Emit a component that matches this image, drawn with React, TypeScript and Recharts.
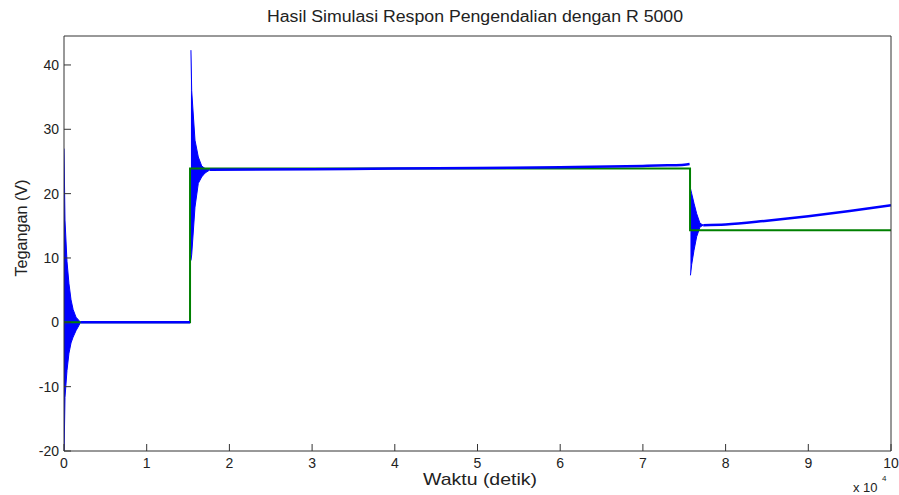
import { ComposedChart, Line, Area, XAxis, YAxis } from 'recharts';

// time is in units of 10^4 s
const timeTicks = [0, 1, 2, 3, 4, 5, 6, 7, 8, 9, 10];
const voltTicks = [-20, -10, 0, 10, 20, 30, 40];

// setpoint (green)
const refTime = [0, 1.524, 1.524, 7.57, 7.57, 10];
const refVolt = [0, 0, 23.9, 23.9, 14.3, 14.3];

// controlled output (blue); null breaks the trace where an oscillation band takes over
const respTime = [0.2, 1.524, 1.53, 1.765, 3, 4, 5, 6, 7, 7.3, 7.5, 7.565, 7.57, 7.73, 8, 8.5, 9, 9.5, 10];
const respVolt = [0, 0, null, 23.7, 23.8, 23.9, 24.0, 24.1, 24.3, 24.4, 24.5, 24.6, null, 15.1, 15.2, 15.8, 16.5, 17.3, 18.2];

// oscillation envelopes after each switching instant
const startTime = [0, 0.012, 0.036, 0.06, 0.085, 0.11, 0.145, 0.18, 0.2];
const startHigh = [27, 15.9, 9.5, 6, 3.5, 2, 0.8, 0.3, 0];
const startLow = [-21, -11.7, -7.5, -4.8, -3.2, -2.3, -1.3, -0.5, 0];

const riseTime = [1.535, 1.544, 1.584, 1.624, 1.665, 1.705, 1.765];
const riseHigh = [42.3, 36, 28.3, 25.7, 24.3, 23.9, 23.7];
const riseLow = [9.6, 10.5, 17.9, 21.6, 22.6, 23.2, 23.7];

const dropTime = [7.575, 7.59, 7.618, 7.65, 7.69, 7.73];
const dropHigh = [20.8, 20, 18.5, 16.9, 15.4, 15.1];
const dropLow = [7.3, 9, 11.2, 13.3, 14.8, 15.1];

const refData = refTime.map((t, i) => ({ t, v: refVolt[i] }));
const respData = respTime.map((t, i) => ({ t, v: respVolt[i] }));
const band = (time: number[], low: number[], high: number[]) =>
  time.map((t, i) => ({ t, range: [low[i], high[i]] }));
const bands = [
  band(startTime, startLow, startHigh),
  band(riseTime, riseLow, riseHigh),
  band(dropTime, dropLow, dropHigh),
];

const AXIS = '#333';
const FONT = '"Liberation Sans", Arial, sans-serif';
const TICK_LEN = 7;

const BottomTick = ({ x, y, payload }: any) => (
  <g>
    <line x1={x} y1={y} x2={x} y2={y - TICK_LEN} stroke={AXIS} />
    <text x={x} y={y + 17} textAnchor="middle" fontSize={14} fill="#222">
      {payload.value}
    </text>
  </g>
);

const TopTick = ({ x, y }: any) => <line x1={x} y1={y} x2={x} y2={y + TICK_LEN} stroke={AXIS} />;

const LeftTick = ({ x, y, payload }: any) => (
  <g>
    <line x1={x} y1={y} x2={x + TICK_LEN} y2={y} stroke={AXIS} />
    <text x={x - 5} y={y + 5} textAnchor="end" fontSize={14} fill="#222">
      {payload.value}
    </text>
  </g>
);

const RightTick = ({ x, y }: any) => <line x1={x} y1={y} x2={x - TICK_LEN} y2={y} stroke={AXIS} />;

export default function App() {
  return (
    <div style={{ position: 'absolute', left: 0, top: 0, width: 899, height: 495, background: '#fff', fontFamily: FONT }}>
      <ComposedChart width={899} height={495} margin={{ top: 35, right: 7, bottom: 14, left: 0 }}>
        <XAxis
          xAxisId="b"
          type="number"
          dataKey="t"
          domain={[0, 10]}
          ticks={timeTicks}
          interval={0}
          allowDataOverflow
          height={30}
          tickSize={0}
          tickMargin={0}
          tickLine={false}
          axisLine={{ stroke: AXIS }}
          tick={<BottomTick />}
        />
        <XAxis
          xAxisId="t"
          orientation="top"
          type="number"
          dataKey="t"
          domain={[0, 10]}
          ticks={timeTicks}
          interval={0}
          height={1}
          tickSize={0}
          tickMargin={0}
          tickLine={false}
          axisLine={{ stroke: AXIS }}
          tick={<TopTick />}
        />
        <YAxis
          yAxisId="l"
          type="number"
          domain={[-20, 44.5]}
          ticks={voltTicks}
          interval={0}
          allowDataOverflow
          width={64}
          tickSize={0}
          tickMargin={0}
          tickLine={false}
          axisLine={{ stroke: AXIS }}
          tick={<LeftTick />}
        />
        <YAxis
          yAxisId="r"
          orientation="right"
          type="number"
          domain={[-20, 44.5]}
          ticks={voltTicks}
          interval={0}
          width={1}
          tickSize={0}
          tickMargin={0}
          tickLine={false}
          axisLine={{ stroke: AXIS }}
          tick={<RightTick />}
        />
        <Line
          xAxisId="b"
          yAxisId="l"
          data={refData}
          dataKey="v"
          type="linear"
          stroke="#008000"
          strokeWidth={2}
          dot={false}
          isAnimationActive={false}
        />
        {bands.map((d, i) => (
          <Area
            key={i}
            xAxisId="b"
            yAxisId="l"
            data={d}
            dataKey="range"
            type="linear"
            stroke="#0000ff"
            strokeWidth={1}
            fill="#0000ff"
            fillOpacity={1}
            isAnimationActive={false}
          />
        ))}
        <Line
          xAxisId="b"
          yAxisId="l"
          data={respData}
          dataKey="v"
          type="monotone"
          stroke="#0000ff"
          strokeWidth={2.5}
          dot={false}
          isAnimationActive={false}
        />
      </ComposedChart>
      <svg
        width={899}
        height={495}
        style={{ position: 'absolute', left: 0, top: 0, pointerEvents: 'none' }}
        fontFamily={FONT}
        fill="#222"
      >
        <text x={475} y={22} textAnchor="middle" fontSize={16} textLength={416} lengthAdjust="spacingAndGlyphs">
          Hasil Simulasi Respon Pengendalian dengan R 5000
        </text>
        <text x={480} y={485} textAnchor="middle" fontSize={17} textLength={114} lengthAdjust="spacingAndGlyphs">
          Waktu (detik)
        </text>
        <text
          transform="translate(27 228) rotate(-90)"
          textAnchor="middle"
          fontSize={16}
          textLength={97}
          lengthAdjust="spacingAndGlyphs"
        >
          Tegangan (V)
        </text>
        <text x={853} y={492} fontSize={13}>
          x 10
        </text>
        <text x={882} y={481} fontSize={8}>
          4
        </text>
      </svg>
    </div>
  );
}
